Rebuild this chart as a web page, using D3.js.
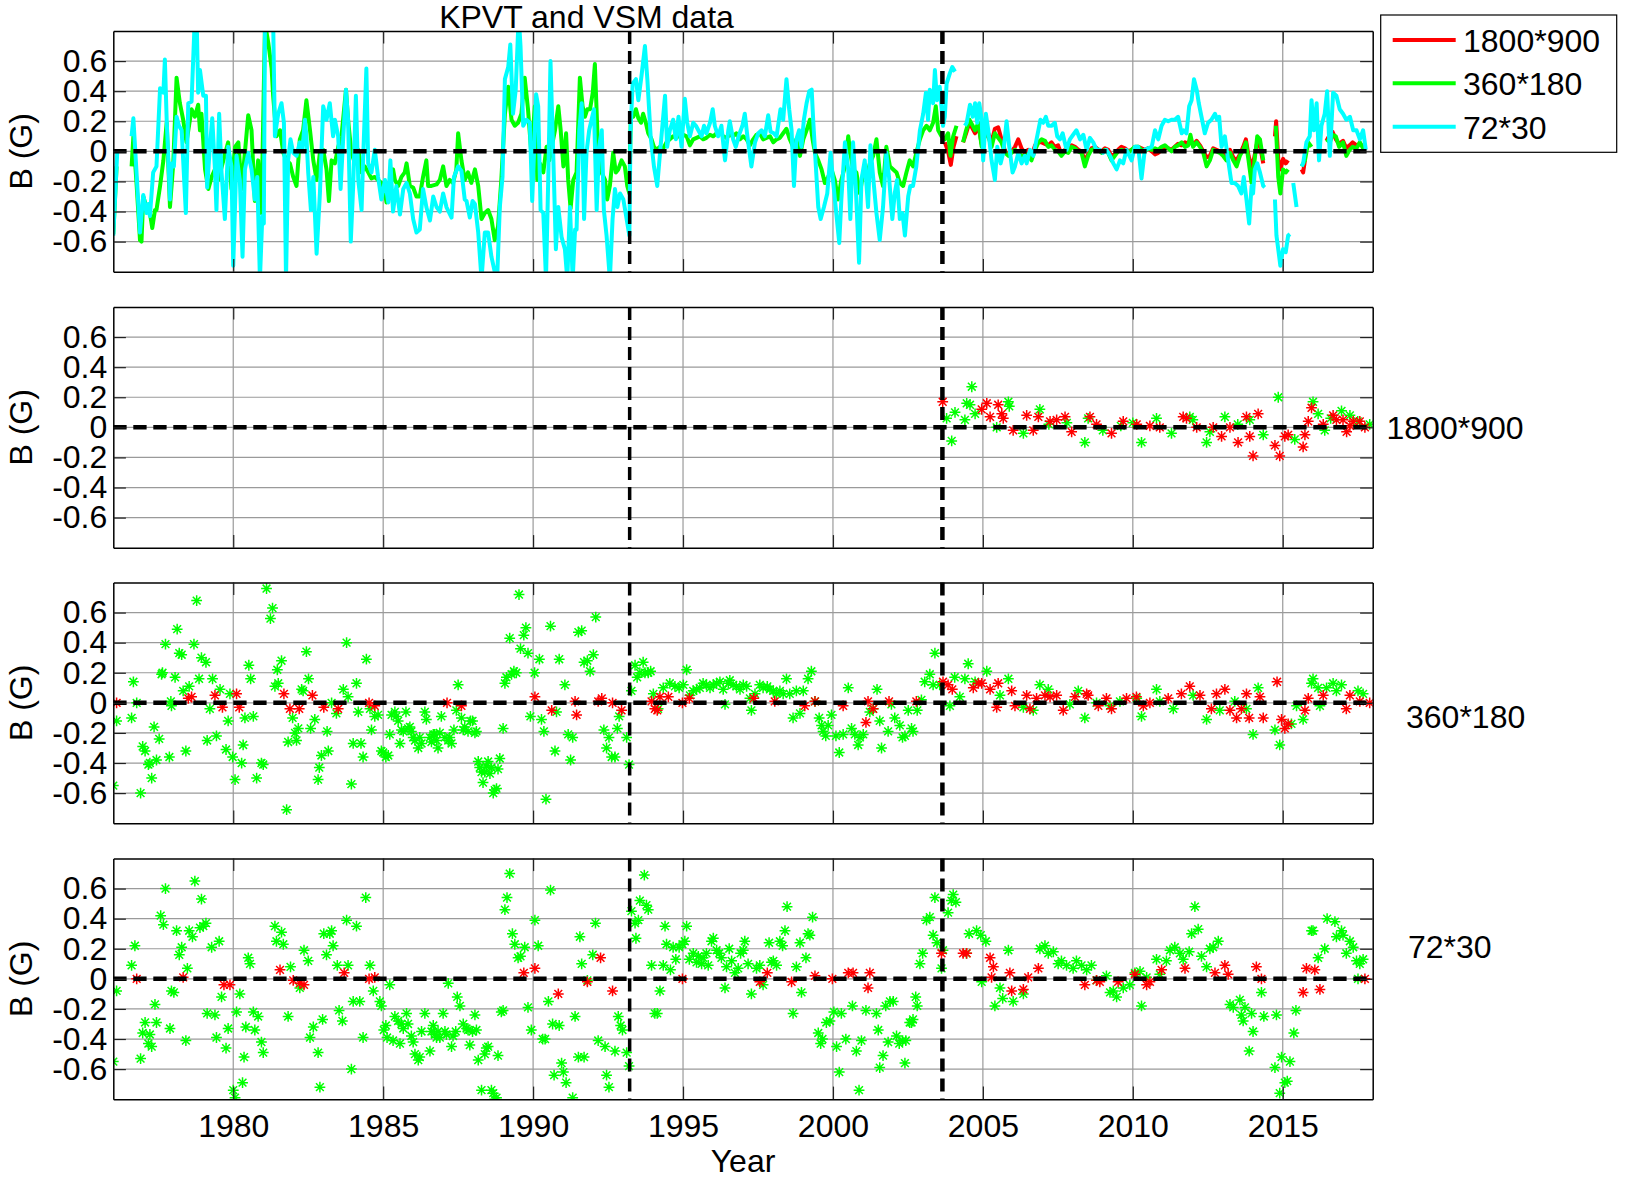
<!DOCTYPE html>
<html lang="en">
<head>
<meta charset="UTF-8" />
<title>KPVT and VSM data</title>
<script src="https://d3js.org/d3.v7.min.js"></script>
<style>
  body { margin: 0; background: #fff; }
  svg { display: block; font-family: "Liberation Sans", Arial, Helvetica, sans-serif; }
</style>
</head>
<body>
<div id="chart"></div>
<script>
// ---------- data ----------
const yearTicks = [1980, 1985, 1990, 1995, 2000, 2005, 2010, 2015];
const bTicks = [-0.6, -0.4, -0.2, 0, 0.2, 0.4, 0.6];
const instrumentBreaks = [1993.22, 2003.65];
const resolutions = ["1800*900", "360*180", "72*30"];
const seriesColors = ["#ff0000", "#00ff00", "#00ffff"];

// top panel: lines, [year, B]; null = gap
const line1800 = [[2003.73,0.06],[2003.84,0.00],[2003.93,-0.09],[2004.02,0.03],[2004.12,0.10],null,[2004.34,0.06],[2004.44,0.12],[2004.55,0.19],[2004.66,0.15],[2004.74,0.12],[2004.85,0.17],[2004.96,0.05],[2005.07,0.10],[2005.18,0.12],[2005.29,0.06],[2005.40,0.15],[2005.51,0.16],[2005.62,0.08],[2005.74,0.00],[2005.85,-0.02],[2005.96,0.00],[2006.07,0.03],[2006.18,0.08],[2006.29,0.02],[2006.40,-0.01],[2006.51,0.01],[2006.62,-0.03],[2006.74,0.04],[2006.85,0.06],[2006.96,0.06],[2007.07,0.05],[2007.18,0.04],[2007.29,0.06],[2007.40,0.03],[2007.51,0.04],[2007.62,-0.02],[2007.74,0.01],[2007.85,0.03],[2007.96,0.04],[2008.07,0.03],[2008.18,0.01],[2008.29,0.00],[2008.40,-0.06],[2008.51,-0.02],[2008.62,0.02],[2008.74,0.03],[2008.85,0.01],[2008.96,0.00],[2009.07,0.02],[2009.18,0.01],[2009.29,-0.03],[2009.40,-0.02],[2009.51,0.01],[2009.62,0.03],[2009.74,0.02],[2009.85,0.00],[2009.96,0.01],[2010.07,0.02],[2010.18,0.03],[2010.29,0.02],[2010.40,0.01],[2010.51,0.02],[2010.63,0.00],[2010.74,-0.02],[2010.85,-0.01],[2010.96,0.01],[2011.07,0.03],[2011.18,0.02],[2011.29,0.01],[2011.40,0.03],[2011.51,0.05],[2011.63,0.04],[2011.74,0.06],[2011.85,0.05],[2011.92,0.08],[2012.01,0.04],[2012.13,0.07],[2012.24,0.04],[2012.35,0.00],[2012.46,-0.04],[2012.57,-0.03],[2012.68,0.02],[2012.79,0.01],[2012.90,0.00],[2013.01,-0.02],[2013.12,-0.04],[2013.24,0.01],[2013.35,-0.04],[2013.46,-0.06],[2013.57,-0.02],[2013.68,0.03],[2013.77,0.08],[2013.86,-0.03],[2013.96,-0.10],[2014.04,-0.05],[2014.15,0.06],[2014.24,0.04],[2014.35,-0.08],null,[2014.74,0.10],[2014.78,0.20],[2014.85,-0.05],[2014.92,-0.12],[2015.01,-0.05],[2015.10,-0.08],[2015.18,-0.06],null,[2015.63,-0.12],[2015.68,-0.14],[2015.74,-0.06],null,[2016.46,0.07],[2016.57,0.11],[2016.66,0.13],[2016.77,0.08],[2016.88,0.05],[2017.01,0.07],[2017.12,0.02],[2017.23,0.04],[2017.33,0.06],[2017.46,0.04],[2017.57,0.05],[2017.68,0.03],[2017.77,0.02]];

const line360 = [[1976.00,-0.55],[1976.11,-0.10],null,[1976.61,-0.10],[1976.67,0.10],[1976.78,-0.23],[1976.89,-0.59],[1976.94,-0.60],[1977.00,-0.30],[1977.11,-0.37],[1977.22,-0.41],[1977.30,-0.51],[1977.39,-0.39],[1977.44,-0.39],[1977.56,-0.23],[1977.67,-0.06],[1977.78,0.19],[1977.89,-0.37],[1978.00,-0.08],[1978.11,0.49],[1978.22,0.32],[1978.33,0.21],[1978.44,0.06],[1978.61,0.28],[1978.72,0.23],[1978.83,0.31],[1978.89,0.14],[1978.94,0.25],[1979.06,-0.12],[1979.17,-0.25],[1979.28,-0.17],[1979.39,-0.12],[1979.50,-0.19],[1979.67,-0.06],[1979.83,0.06],[1979.94,-0.25],[1980.06,0.03],[1980.17,0.06],[1980.28,-0.25],[1980.50,0.24],[1980.61,0.14],[1980.72,-0.33],[1980.83,-0.06],[1980.94,-0.41],[1981.06,0.85],[1981.17,0.72],[1981.28,0.55],[1981.33,0.37],[1981.44,0.10],[1981.56,0.14],[1981.67,-0.01],[1981.78,-0.06],[1981.89,-0.08],[1982.00,-0.17],[1982.11,-0.23],[1982.22,0.08],[1982.33,0.14],[1982.44,0.34],[1982.56,0.14],[1982.67,-0.06],[1982.78,-0.19],[1982.89,-0.01],[1983.00,0.01],[1983.11,-0.12],[1983.19,-0.33],[1983.28,-0.06],[1983.39,-0.08],[1983.50,0.03],[1983.61,0.10],[1983.76,0.41],[1983.83,0.21],[1983.94,-0.01],[1984.06,-0.08],[1984.17,0.01],[1984.28,-0.14],[1984.39,-0.10],[1984.50,-0.14],[1984.61,-0.18],[1984.72,-0.17],[1984.83,-0.19],[1984.94,-0.21],[1985.06,-0.28],[1985.11,-0.34],[1985.22,-0.21],[1985.33,-0.12],[1985.39,-0.19],[1985.50,-0.23],[1985.61,-0.17],[1985.72,-0.14],[1985.78,-0.08],[1985.89,-0.23],[1986.00,-0.24],[1986.11,-0.30],[1986.22,-0.30],[1986.33,-0.17],[1986.44,-0.06],[1986.50,-0.23],[1986.61,-0.23],[1986.78,-0.22],[1986.89,-0.19],[1987.00,-0.10],[1987.11,-0.23],[1987.22,-0.19],[1987.33,-0.21],[1987.44,-0.12],[1987.50,0.12],[1987.61,-0.06],[1987.72,-0.19],[1987.83,-0.14],[1987.94,-0.21],[1988.06,-0.12],[1988.17,-0.23],[1988.28,-0.45],[1988.39,-0.41],[1988.50,-0.39],[1988.61,-0.45],[1988.72,-0.59],[1988.83,-0.50],[1988.94,-0.19],[1989.06,0.25],[1989.17,0.43],[1989.28,0.21],[1989.39,0.17],[1989.50,0.19],[1989.61,0.25],[1989.72,0.49],[1989.83,0.28],[1989.94,-0.01],
[1990.06,0.30],[1990.14,-0.19],[1990.23,-0.08],[1990.34,-0.14],[1990.45,0.03],[1990.54,-0.06],[1990.62,0.03],[1990.73,0.14],[1990.84,0.30],[1990.92,0.14],[1991.01,-0.10],[1991.10,0.12],[1991.17,-0.19],[1991.25,-0.38],[1991.34,-0.19],[1991.45,-0.14],[1991.56,0.49],[1991.65,0.30],[1991.73,0.23],[1991.81,0.28],[1991.90,0.28],[1991.99,0.39],[1992.06,0.58],[1992.17,-0.01],[1992.28,-0.14],[1992.40,-0.19],[1992.47,-0.32],[1992.56,-0.23],[1992.67,-0.01],[1992.76,-0.14],[1992.84,-0.12],[1992.95,-0.06],[1993.06,-0.10],[1993.14,-0.23],[1993.21,-0.28],[1993.26,0.25],[1993.34,0.23],[1993.43,0.28],[1993.51,0.22],[1993.60,0.19],[1993.67,0.25],[1993.76,0.19],[1993.84,0.12],[1993.95,0.08],[1994.03,0.03],[1994.12,0.01],[1994.23,0.03],[1994.34,0.02],[1994.45,0.06],[1994.56,0.08],[1994.67,0.10],[1994.78,0.09],[1994.90,0.11],[1995.01,0.11],[1995.12,0.10],[1995.23,0.04],[1995.34,0.08],[1995.45,0.09],[1995.56,0.10],[1995.67,0.08],[1995.78,0.09],[1995.90,0.11],[1996.01,0.10],[1996.12,0.12],[1996.23,0.13],[1996.34,0.10],[1996.45,0.09],[1996.56,0.11],[1996.67,0.10],[1996.78,0.12],[1996.90,0.08],[1997.01,0.10],[1997.12,0.08],[1997.23,0.04],[1997.34,0.08],[1997.45,0.11],[1997.56,0.12],[1997.67,0.08],[1997.78,0.09],[1997.90,0.10],[1998.01,0.06],[1998.12,0.08],[1998.23,0.09],[1998.34,0.12],[1998.45,0.15],[1998.56,0.08],[1998.67,0.03],[1998.78,0.08],[1998.90,-0.03],[1999.01,0.08],[1999.12,0.14],[1999.23,0.21],[1999.32,0.08],[1999.40,-0.01],[1999.51,-0.06],[1999.62,-0.12],[1999.73,-0.21],[1999.84,-0.17],[1999.95,-0.12],[2000.06,-0.19],[2000.17,-0.32],[2000.28,-0.19],[2000.40,-0.10],[2000.51,0.10],[2000.58,-0.01],[2000.67,-0.12],[2000.78,-0.14],[2000.90,-0.28],[2001.01,-0.14],[2001.12,-0.17],[2001.23,-0.08],[2001.34,-0.03],[2001.45,0.08],[2001.56,-0.14],[2001.67,-0.23],[2001.78,0.03],[2001.90,-0.10],[2002.01,-0.12],[2002.12,-0.14],[2002.23,-0.21],[2002.34,-0.23],[2002.45,-0.14],[2002.56,-0.06],[2002.67,-0.10],[2002.78,-0.01],[2002.90,0.08],[2003.01,0.14],[2003.12,0.17],[2003.23,0.14],[2003.34,0.19],[2003.43,0.30],[2003.51,0.14],[2003.62,0.10],[2003.73,0.08],[2003.84,0.12],[2003.92,-0.03],[2004.01,0.10],[2004.12,0.17],null,[2004.34,0.06],
[2004.44,0.14],[2004.55,0.21],[2004.66,0.17],[2004.74,0.14],[2004.85,0.19],[2004.96,0.03],[2005.07,0.12],[2005.18,0.10],[2005.29,0.03],[2005.40,0.12],[2005.51,0.09],[2005.62,0.06],[2005.74,-0.01],[2005.85,-0.03],[2005.96,-0.01],[2006.07,0.01],[2006.18,-0.01],[2006.29,-0.03],[2006.40,-0.03],[2006.51,-0.02],[2006.62,-0.06],[2006.74,0.01],[2006.85,0.06],[2006.96,0.08],[2007.07,0.07],[2007.18,0.03],[2007.29,0.04],[2007.40,0.01],[2007.51,0.00],[2007.62,-0.03],[2007.74,0.00],[2007.85,-0.01],[2007.96,0.03],[2008.07,0.02],[2008.18,0.00],[2008.29,-0.01],[2008.40,-0.10],[2008.51,-0.03],[2008.62,0.01],[2008.74,0.02],[2008.85,0.01],[2008.96,-0.01],[2009.07,0.01],[2009.18,-0.01],[2009.29,-0.06],[2009.40,-0.03],[2009.51,0.00],[2009.62,0.01],[2009.74,0.00],[2009.85,-0.01],[2009.96,0.01],[2010.07,0.03],[2010.18,0.03],[2010.29,0.01],[2010.40,0.00],[2010.51,0.02],[2010.63,0.01],[2010.74,0.02],[2010.85,0.01],[2010.96,0.03],[2011.07,0.04],[2011.18,0.02],[2011.29,0.00],[2011.40,0.03],[2011.51,0.04],[2011.63,0.06],[2011.74,0.03],[2011.85,0.04],[2011.92,0.11],[2012.01,0.03],[2012.13,0.06],[2012.24,0.03],[2012.35,-0.01],[2012.46,-0.10],[2012.57,-0.06],[2012.68,0.01],[2012.79,0.00],[2012.90,-0.01],[2013.01,-0.03],[2013.12,-0.06],[2013.24,-0.01],[2013.35,-0.06],[2013.46,-0.10],[2013.57,-0.03],[2013.68,0.01],[2013.77,0.06],[2013.86,-0.06],[2013.96,-0.21],[2014.04,-0.10],[2014.15,0.10],[2014.24,0.08],[2014.35,-0.06],null,[2014.77,0.17],[2014.85,-0.17],[2014.92,-0.28],[2015.01,-0.12],[2015.10,-0.14],[2015.18,-0.12],null,[2015.63,-0.10],[2015.74,-0.06],[2015.85,0.06],[2015.96,0.03],null,[2016.46,0.08],[2016.57,0.06],[2016.66,0.11],[2016.77,0.10],[2016.88,0.03],[2017.01,0.06],[2017.12,-0.03],[2017.23,0.01],[2017.33,0.03],[2017.46,0.02],[2017.57,0.06],[2017.68,0.02],[2017.77,0.01]];

const line72 = [[1976.00,-0.56],[1976.13,-0.01],null,[1976.61,0.10],[1976.67,0.22],[1976.89,-0.54],[1977.00,-0.29],[1977.11,-0.41],[1977.17,-0.35],[1977.22,-0.43],[1977.33,-0.14],[1977.44,-0.10],[1977.56,0.42],[1977.67,0.39],[1977.72,0.61],[1977.78,0.21],[1977.89,-0.32],[1977.94,-0.08],[1978.02,-0.10],[1978.11,0.23],[1978.19,0.17],[1978.28,0.14],[1978.42,-0.41],[1978.50,0.32],[1978.61,0.33],[1978.72,0.90],[1978.78,0.88],[1978.83,0.39],[1978.89,0.54],[1979.00,0.37],[1979.09,0.37],[1979.13,-0.24],[1979.22,0.03],[1979.30,0.22],[1979.39,-0.12],[1979.44,-0.39],[1979.53,0.25],[1979.61,-0.14],[1979.72,-0.45],[1979.83,0.03],[1979.94,-0.10],[1980.00,-0.76],[1980.11,-0.03],[1980.22,-0.19],[1980.31,-0.70],[1980.39,-0.12],[1980.50,-0.01],[1980.61,-0.12],[1980.72,-0.32],[1980.80,-0.17],[1980.89,-0.85],[1980.97,-0.43],[1981.02,-0.48],[1981.06,0.90],[1981.17,0.88],[1981.33,0.88],[1981.39,0.10],[1981.50,0.25],[1981.61,0.32],[1981.69,0.19],[1981.76,-0.85],[1981.83,-0.06],[1981.91,0.08],[1982.00,-0.01],[1982.11,-0.03],[1982.22,0.06],[1982.31,0.01],[1982.39,0.21],[1982.44,0.10],[1982.50,-0.14],[1982.59,-0.39],[1982.67,-0.17],[1982.78,-0.68],[1982.89,-0.28],[1983.00,0.30],[1983.11,0.21],[1983.22,0.32],[1983.33,0.10],[1983.39,0.21],[1983.50,0.10],[1983.58,-0.25],[1983.67,0.10],[1983.76,0.41],[1983.83,0.21],[1983.92,-0.60],[1984.00,-0.23],[1984.09,0.37],[1984.17,-0.19],[1984.28,-0.39],[1984.33,-0.06],[1984.44,0.55],[1984.50,-0.08],[1984.61,-0.14],[1984.72,0.01],[1984.83,-0.17],[1984.94,-0.32],[1985.06,-0.19],[1985.17,-0.34],[1985.24,-0.06],[1985.33,-0.40],[1985.44,-0.23],[1985.56,-0.42],[1985.67,-0.25],[1985.78,-0.21],[1985.89,-0.28],[1986.00,-0.45],[1986.11,-0.54],[1986.22,-0.52],[1986.33,-0.25],[1986.44,-0.37],[1986.56,-0.46],[1986.67,-0.30],[1986.78,-0.37],[1986.89,-0.40],[1987.00,-0.28],[1987.11,-0.37],[1987.28,-0.44],[1987.36,-0.17],[1987.50,-0.10],[1987.61,-0.13],[1987.72,-0.32],[1987.78,-0.33],[1987.89,-0.44],[1987.98,-0.33],[1988.06,-0.35],[1988.17,-0.54],[1988.28,-0.85],[1988.39,-0.54],[1988.50,-0.54],[1988.61,-0.70],[1988.72,-0.80],[1988.80,-0.85],[1988.89,-0.37],[1988.98,-0.17],[1989.06,0.48],[1989.17,0.56],[1989.24,0.71],[1989.33,0.25],[1989.42,0.41],[1989.52,0.90],[1989.58,0.70],[1989.67,0.17],[1989.78,0.21],[1989.89,0.19],[1989.97,-0.33],
[1990.01,-0.12],[1990.10,0.38],[1990.17,0.30],[1990.25,-0.39],[1990.34,-0.41],[1990.43,-0.85],[1990.51,-0.14],[1990.58,0.60],[1990.67,-0.01],[1990.76,-0.65],[1990.84,-0.37],[1990.95,-0.57],[1991.06,-0.65],[1991.14,-0.85],[1991.23,-0.37],[1991.32,-0.85],[1991.40,-0.52],[1991.45,-0.52],[1991.54,0.14],[1991.62,0.32],[1991.70,-0.45],[1991.78,-0.01],[1991.87,0.14],[1991.95,0.21],[1992.03,0.28],[1992.12,-0.39],[1992.20,0.03],[1992.29,0.14],[1992.36,-0.39],[1992.45,-0.56],[1992.56,-0.85],[1992.65,-0.45],[1992.73,-0.25],[1992.81,-0.37],[1992.90,-0.28],[1993.01,-0.32],[1993.12,-0.45],[1993.21,-0.56],[1993.25,0.14],[1993.32,0.45],[1993.43,0.48],[1993.51,0.34],[1993.62,0.51],[1993.73,0.70],[1993.81,0.48],[1993.92,0.10],[1994.03,-0.10],[1994.14,-0.23],[1994.25,0.03],[1994.40,0.37],[1994.47,0.03],[1994.56,0.14],[1994.67,0.21],[1994.76,0.08],[1994.85,0.23],[1994.95,0.03],[1995.06,0.35],[1995.14,0.19],[1995.23,0.10],[1995.34,0.19],[1995.43,0.17],[1995.51,0.14],[1995.62,0.10],[1995.70,0.17],[1995.78,0.12],[1995.90,0.19],[1995.99,0.28],[1996.06,0.17],[1996.17,0.10],[1996.28,0.17],[1996.40,-0.06],[1996.51,0.14],[1996.56,0.20],[1996.67,0.08],[1996.76,0.03],[1996.87,0.11],[1996.98,0.17],[1997.06,0.25],[1997.14,0.11],[1997.28,-0.10],[1997.40,0.06],[1997.51,0.12],[1997.62,0.14],[1997.73,0.10],[1997.84,0.24],[1997.92,0.13],[1998.03,0.12],[1998.12,0.10],[1998.25,0.28],[1998.34,0.21],[1998.45,0.48],[1998.54,0.28],[1998.62,0.14],[1998.70,-0.23],[1998.78,0.08],[1998.87,0.14],[1998.95,0.03],[1999.03,0.21],[1999.12,0.32],[1999.21,0.40],[1999.29,0.41],[1999.34,0.21],[1999.43,-0.10],[1999.51,-0.37],[1999.59,-0.45],[1999.70,-0.37],[1999.81,-0.28],[1999.92,-0.01],[2000.01,-0.21],[2000.10,-0.39],[2000.21,-0.61],[2000.28,-0.32],[2000.40,0.06],[2000.51,-0.12],[2000.58,-0.45],[2000.67,0.06],[2000.76,-0.23],[2000.87,-0.74],[2000.95,-0.19],[2001.06,-0.06],[2001.17,-0.37],[2001.25,0.04],[2001.34,-0.17],[2001.45,-0.41],[2001.56,-0.59],[2001.67,-0.37],[2001.78,-0.01],[2001.87,-0.17],[2001.98,-0.45],[2002.06,-0.28],[2002.14,-0.19],[2002.23,-0.45],[2002.32,-0.41],[2002.40,-0.56],[2002.51,-0.30],[2002.58,-0.23],[2002.67,-0.23],[2002.78,-0.10],[2002.90,0.14],[2003.01,0.25],[2003.10,0.39],[2003.17,0.21],[2003.23,0.41],[2003.34,0.32],[2003.40,0.54],[2003.47,0.34],[2003.56,0.43],[2003.67,0.17],[2003.73,0.23],[2003.79,0.45],[2003.90,0.52],[2003.98,0.56],[2004.07,0.53],null,[2004.40,0.17],
[2004.46,0.19],[2004.57,0.31],[2004.66,0.23],[2004.74,0.32],[2004.81,0.19],[2004.88,0.32],[2004.96,0.21],[2005.01,-0.06],[2005.10,0.25],[2005.18,0.14],[2005.29,-0.06],[2005.40,-0.19],[2005.48,0.03],[2005.59,-0.08],[2005.68,-0.01],[2005.79,0.20],[2005.88,0.03],[2005.99,-0.14],[2006.07,-0.10],[2006.18,-0.01],[2006.29,-0.08],[2006.40,-0.03],[2006.46,-0.08],[2006.57,0.01],[2006.68,-0.03],[2006.77,0.06],[2006.85,0.14],[2006.92,0.21],[2007.01,0.19],[2007.10,0.23],[2007.18,0.17],[2007.29,0.17],[2007.40,0.19],[2007.48,0.10],[2007.57,0.08],[2007.66,0.12],[2007.79,0.01],[2007.90,0.08],[2008.01,0.11],[2008.12,0.14],[2008.24,0.08],[2008.35,0.11],[2008.46,0.01],[2008.57,0.09],[2008.68,0.06],[2008.79,0.01],[2008.90,0.01],[2009.01,-0.01],[2009.12,0.01],[2009.24,-0.03],[2009.35,-0.08],[2009.46,-0.12],[2009.57,-0.06],[2009.68,-0.08],[2009.79,0.01],[2009.96,-0.06],[2010.07,0.03],[2010.18,0.03],[2010.29,-0.18],[2010.40,0.01],[2010.51,0.02],[2010.63,0.03],[2010.74,0.14],[2010.85,0.08],[2010.96,0.17],[2011.07,0.21],[2011.18,0.20],[2011.29,0.21],[2011.40,0.21],[2011.51,0.23],[2011.63,0.12],[2011.70,0.14],[2011.79,0.12],[2011.88,0.30],[2011.96,0.34],[2012.04,0.48],[2012.13,0.41],[2012.20,0.32],[2012.29,0.23],[2012.40,0.12],[2012.51,0.19],[2012.62,0.21],[2012.74,0.25],[2012.81,0.21],[2012.88,0.23],[2012.96,0.03],[2013.07,0.10],[2013.18,-0.06],[2013.29,-0.21],[2013.40,-0.21],[2013.51,-0.23],[2013.62,-0.28],[2013.70,-0.17],[2013.79,-0.32],[2013.88,-0.48],[2013.96,-0.23],[2014.01,-0.28],[2014.07,-0.12],[2014.15,-0.08],[2014.24,-0.14],[2014.35,-0.23],[2014.40,-0.24],null,[2014.74,-0.32],[2014.79,-0.56],[2014.85,-0.65],[2014.92,-0.76],[2015.01,-0.65],[2015.10,-0.67],[2015.18,-0.56],[2015.24,-0.55],null,[2015.35,-0.21],[2015.46,-0.37],null,[2015.63,-0.10],[2015.68,-0.08],[2015.79,0.06],[2015.90,0.10],[2015.96,0.34],[2016.04,0.14],[2016.13,0.32],[2016.21,-0.06],[2016.29,0.17],[2016.40,0.25],[2016.48,0.40],[2016.57,-0.03],[2016.68,0.39],[2016.79,0.37],[2016.90,0.28],[2017.01,0.25],[2017.12,0.21],[2017.24,0.23],[2017.35,0.14],[2017.46,0.14],[2017.57,0.08],[2017.68,0.14],[2017.77,0.01]];

// panel 2 (1800*900) points, [year, B]
const p1800Green = [[2003.79,0.06],[2003.96,-0.09],[2004.07,0.10],[2004.40,0.05],[2004.46,0.16],[2004.57,0.15],[2004.63,0.27],[2004.74,0.09],[2005.46,0.00],[2005.85,0.17],[2005.88,0.14],[2006.35,-0.04],[2006.90,0.12],[2007.20,0.02],[2007.80,0.03],[2008.40,-0.10],[2008.51,0.06],[2009.00,-0.02],[2009.60,0.01],[2010.00,0.03],[2010.29,-0.10],[2010.79,0.06],[2011.29,-0.04],[2011.90,0.07],[2012.00,0.05],[2012.46,-0.10],[2012.57,-0.03],[2013.07,0.07],[2013.50,0.02],[2013.90,0.05],[2014.35,-0.05],[2014.85,0.20],[2015.40,-0.08],[2016.01,0.17],[2016.18,0.09],[2016.40,-0.02],[2016.60,0.06],[2016.96,0.11],[2017.24,0.08],[2017.50,0.04],[2017.90,0.02]];
const p1800Red = [[2003.66,0.17],[2004.96,0.12],[2005.13,0.16],[2005.24,0.07],[2005.51,0.15],[2005.63,0.09],[2005.68,0.06],[2006.01,-0.02],[2006.46,0.08],[2006.68,-0.02],[2006.85,0.07],[2007.24,0.04],[2007.46,0.05],[2007.74,0.07],[2007.96,-0.03],[2008.57,0.07],[2008.79,0.02],[2009.29,-0.04],[2009.68,0.04],[2010.13,0.02],[2010.57,0.01],[2010.90,0.00],[2011.68,0.07],[2011.79,0.06],[2012.13,0.00],[2012.68,0.00],[2012.96,-0.06],[2013.24,0.00],[2013.51,-0.10],[2013.79,0.07],[2013.90,-0.06],[2014.01,-0.19],[2014.18,0.09],[2014.74,-0.12],[2014.90,-0.19],[2015.07,-0.06],[2015.18,-0.05],[2015.68,-0.13],[2015.74,-0.05],[2015.85,0.04],[2015.96,0.13],[2016.35,0.02],[2016.68,0.08],[2016.79,0.05],[2017.01,0.05],[2017.13,-0.03],[2017.24,0.01],[2017.35,0.04],[2017.57,0.04],[2017.74,0.00]];

// panel 3 (360*180) points
const p360Green = [[1976.00,-0.55],[1976.11,-0.12],[1976.61,-0.10],[1976.67,0.14],[1976.78,0.00],[1976.91,-0.60],[1976.98,-0.29],[1977.06,-0.32],[1977.17,-0.41],[1977.22,-0.40],[1977.28,-0.50],[1977.36,-0.16],[1977.44,-0.38],[1977.53,-0.24],[1977.61,0.19],[1977.64,0.20],[1977.74,0.39],[1977.87,-0.36],[1977.92,0.01],[1977.94,-0.02],[1978.06,0.17],[1978.13,0.49],[1978.20,0.33],[1978.28,0.32],[1978.33,0.08],[1978.42,-0.32],[1978.53,0.11],[1978.69,0.39],[1978.78,0.68],[1978.86,0.16],[1978.94,0.30],[1979.09,0.27],[1979.13,-0.25],[1979.22,-0.04],[1979.31,0.16],[1979.44,-0.22],[1979.56,0.09],[1979.76,-0.31],[1979.83,-0.12],[1979.89,0.06],[1979.98,-0.36],[1980.06,-0.51],[1980.28,-0.40],[1980.33,-0.28],[1980.39,-0.10],[1980.52,0.25],[1980.58,0.16],[1980.67,-0.09],[1980.78,-0.50],[1980.94,-0.40],[1981.00,-0.41],[1981.11,0.76],[1981.24,0.56],[1981.31,0.63],[1981.39,0.11],[1981.47,0.22],[1981.50,0.13],[1981.61,0.28],[1981.78,-0.71],[1981.83,-0.26],[1981.98,-0.10],[1982.06,-0.20],[1982.11,-0.25],[1982.17,-0.17],[1982.28,0.09],[1982.33,0.08],[1982.44,0.34],[1982.51,0.16],[1982.58,-0.17],[1982.72,-0.11],[1982.83,-0.51],[1982.87,-0.43],[1982.94,-0.35],[1983.13,-0.19],[1983.17,-0.32],[1983.28,0.00],[1983.44,-0.07],[1983.67,0.09],[1983.78,0.40],[1983.83,0.04],[1983.94,-0.54],[1984.00,-0.27],[1984.11,0.13],[1984.17,-0.06],[1984.26,-0.27],[1984.33,-0.36],[1984.44,0.29],[1984.56,-0.04],[1984.61,-0.18],[1984.72,-0.09],[1984.83,-0.08],[1984.94,-0.32],[1985.00,-0.33],[1985.09,-0.36],[1985.17,-0.35],[1985.22,-0.21],[1985.28,-0.08],[1985.39,-0.06],[1985.44,-0.09],[1985.50,-0.12],[1985.56,-0.27],[1985.61,-0.18],[1985.67,-0.19],[1985.76,-0.06],[1985.83,-0.17],[1985.89,-0.16],[1985.94,-0.19],[1986.00,-0.23],[1986.06,-0.25],[1986.17,-0.30],[1986.22,-0.23],[1986.28,-0.27],[1986.39,-0.06],[1986.44,-0.11],[1986.56,-0.23],[1986.61,-0.26],[1986.67,-0.21],[1986.72,-0.21],[1986.78,-0.25],[1986.83,-0.30],[1986.89,-0.20],[1986.94,-0.09],[1987.06,-0.23],[1987.17,-0.25],[1987.22,-0.23],[1987.28,-0.27],[1987.36,-0.18],[1987.44,-0.05],[1987.50,0.12],[1987.61,-0.10],[1987.67,-0.18],[1987.72,-0.16],[1987.83,-0.19],[1987.91,-0.12],[1987.98,-0.12],[1988.06,-0.20],[1988.11,-0.19],[1988.17,-0.39],[1988.22,-0.43],[1988.28,-0.46],[1988.33,-0.53],[1988.39,-0.46],[1988.44,-0.42],[1988.50,-0.39],[1988.56,-0.47],[1988.61,-0.43],[1988.67,-0.60],[1988.72,-0.58],[1988.78,-0.57],[1988.83,-0.44],[1988.89,-0.37],[1989.00,-0.17],[1989.06,0.13],[1989.11,0.17],[1989.22,0.43],[1989.28,0.19],[1989.36,0.21],[1989.44,0.20],[1989.53,0.72],[1989.58,0.36],[1989.69,0.45],[1989.76,0.50],[1989.83,0.33],[1989.91,-0.09],[1990.05,0.20],
[1990.21,0.29],[1990.28,-0.11],[1990.36,-0.19],[1990.43,-0.64],[1990.58,0.51],[1990.73,-0.32],[1990.78,-0.06],[1990.87,0.29],[1991.06,0.12],[1991.17,-0.21],[1991.25,-0.38],[1991.32,-0.23],[1991.51,0.47],[1991.62,0.48],[1991.70,0.27],[1991.81,0.28],[1991.90,0.21],[1992.01,0.32],[1992.09,0.57],[1992.36,-0.18],[1992.45,-0.30],[1992.53,-0.23],[1992.62,-0.36],[1992.73,-0.36],[1992.81,-0.17],[1992.87,-0.09],[1993.12,-0.23],[1993.20,-0.41],[1993.28,0.08],[1993.40,0.25],[1993.47,0.17],[1993.56,0.20],[1993.67,0.27],[1993.73,0.20],[1993.84,0.20],[1993.92,0.21],[1994.01,0.06],[1994.17,-0.04],[1994.34,0.10],[1994.56,0.13],[1994.73,0.11],[1994.87,0.10],[1995.01,0.12],[1995.12,0.22],[1995.23,0.05],[1995.34,0.08],[1995.45,0.09],[1995.56,0.10],[1995.67,0.13],[1995.78,0.12],[1995.90,0.10],[1996.01,0.12],[1996.12,0.13],[1996.23,0.14],[1996.34,0.09],[1996.40,-0.01],[1996.51,0.13],[1996.56,0.15],[1996.67,0.12],[1996.78,0.11],[1996.90,0.09],[1997.01,0.12],[1997.12,0.11],[1997.23,0.03],[1997.28,-0.05],[1997.40,0.06],[1997.56,0.12],[1997.67,0.10],[1997.81,0.11],[1997.90,0.09],[1998.01,0.08],[1998.12,0.06],[1998.23,0.08],[1998.34,0.06],[1998.45,0.16],[1998.56,0.06],[1998.67,-0.10],[1998.78,0.08],[1998.90,-0.07],[1999.01,0.08],[1999.17,0.16],[1999.28,0.21],[1999.40,0.01],[1999.54,-0.10],[1999.62,-0.15],[1999.67,-0.19],[1999.76,-0.22],[1999.84,-0.15],[1999.95,-0.08],[2000.10,-0.22],[2000.21,-0.33],[2000.34,-0.21],[2000.51,0.10],[2000.62,-0.17],[2000.73,-0.21],[2000.84,-0.28],[2000.90,-0.23],[2001.01,-0.21],[2001.23,-0.06],[2001.34,-0.04],[2001.47,0.09],[2001.56,-0.12],[2001.62,-0.30],[2001.84,-0.19],[2001.95,-0.01],[2002.06,-0.10],[2002.23,-0.15],[2002.32,-0.23],[2002.40,-0.22],[2002.51,-0.05],[2002.62,-0.17],[2002.67,-0.19],[2002.81,-0.05],[2002.95,0.02],[2003.06,0.14],[2003.23,0.19],[2003.34,0.12],[2003.40,0.33],[2003.56,0.12],[2003.90,-0.02],[2004.06,0.17],[2004.23,0.04],[2004.40,0.16],[2004.51,0.26],
[2004.74,0.14],[2005.13,0.21],[2005.57,0.05],[2005.85,0.16],[2006.35,-0.03],[2006.68,-0.05],[2006.90,0.12],[2007.18,0.09],[2007.90,-0.01],[2008.18,0.08],[2008.40,-0.10],[2008.79,0.00],[2009.24,-0.02],[2009.57,0.01],[2010.13,0.03],[2010.29,-0.09],[2010.79,0.09],[2010.90,0.01],[2011.35,-0.04],[2012.01,0.05],[2012.46,-0.11],[2012.90,-0.05],[2013.40,0.01],[2013.79,-0.04],[2014.01,-0.21],[2014.18,0.10],[2014.74,-0.18],[2014.90,-0.28],[2015.29,-0.14],[2015.46,-0.02],[2015.68,-0.11],[2015.96,0.13],[2016.01,0.16],[2016.18,0.10],[2016.24,-0.02],[2016.46,0.10],[2016.68,0.13],[2016.79,0.08],[2016.96,0.12],[2017.51,0.08],[2017.68,0.06]];
const p360Red = [[1976.11,0.00],[1978.50,0.03],[1978.61,0.04],[1979.39,0.05],[1979.64,-0.03],[1980.11,0.06],[1980.20,-0.03],[1981.69,0.06],[1981.89,-0.04],[1982.20,-0.04],[1982.64,0.05],[1983.02,-0.03],[1983.50,-0.04],[1984.53,0.00],[1984.72,-0.02],[1987.13,0.00],[1987.61,-0.02],[1990.06,0.04],[1990.62,-0.05],[1991.40,0.01],[1991.45,-0.08],[1992.17,0.01],[1992.29,0.03],[1992.65,0.00],[1992.95,-0.05],[1993.95,0.01],[1994.06,-0.04],[1994.14,-0.05],[1994.23,0.04],[1994.51,0.04],[1994.98,0.00],[1995.21,0.03],[1997.36,0.03],[1998.06,0.01],[1999.06,-0.02],[1999.40,0.01],[2000.34,-0.02],[2001.10,-0.13],[2001.17,0.01],[2001.34,-0.04],[2001.87,0.01],[2002.78,0.01],[2003.67,0.14],[2003.84,0.12],[2003.98,0.09],[2004.68,0.10],[2004.85,0.13],[2004.96,0.13],[2005.24,0.09],[2005.46,-0.03],[2005.51,0.13],[2005.96,0.08],[2006.07,-0.02],[2006.46,0.05],[2006.57,-0.04],[2006.79,0.03],[2007.07,0.05],[2007.24,0.04],[2007.46,0.05],[2007.68,-0.05],[2008.07,0.04],[2008.46,0.06],[2008.51,0.05],[2008.85,-0.02],[2009.12,0.03],[2009.29,-0.04],[2009.79,0.03],[2010.12,0.04],[2010.35,-0.02],[2010.57,0.00],[2011.18,0.03],[2011.62,0.06],[2011.90,0.11],[2012.24,0.05],[2012.62,-0.04],[2012.79,0.06],[2013.07,0.09],[2013.24,-0.05],[2013.46,-0.10],[2013.62,-0.04],[2013.79,0.06],[2013.88,-0.10],[2014.24,0.04],[2014.35,-0.10],[2014.81,0.14],[2014.96,-0.11],[2015.07,-0.17],[2015.18,-0.14],[2015.74,-0.05],[2015.85,0.03],[2016.35,0.05],[2017.12,-0.04],[2017.24,0.05],[2017.57,0.01],[2017.90,0.00]];

// panel 4 (72*30) points
const p72Green = [[1976.00,-0.55],[1976.11,-0.08],[1976.61,0.09],[1976.72,0.22],[1976.91,-0.53],[1976.98,-0.36],[1977.06,-0.29],[1977.17,-0.43],[1977.22,-0.37],[1977.28,-0.45],[1977.39,-0.17],[1977.44,-0.29],[1977.58,0.42],[1977.67,0.36],[1977.74,0.60],[1977.89,-0.33],[1977.94,-0.08],[1978.02,-0.09],[1978.11,0.32],[1978.20,0.16],[1978.28,0.21],[1978.42,-0.41],[1978.47,0.07],[1978.53,0.32],[1978.64,0.28],[1978.72,0.65],[1978.89,0.34],[1978.94,0.53],[1979.00,0.35],[1979.09,0.37],[1979.13,-0.23],[1979.28,0.21],[1979.39,-0.24],[1979.44,-0.39],[1979.53,0.25],[1979.61,-0.12],[1979.76,-0.46],[1979.83,-0.33],[1980.00,-0.74],[1980.06,-0.79],[1980.11,-0.22],[1980.22,-0.10],[1980.31,-0.69],[1980.36,-0.52],[1980.42,-0.32],[1980.50,0.14],[1980.56,0.10],[1980.67,-0.22],[1980.72,-0.34],[1980.83,-0.25],[1980.94,-0.42],[1981.00,-0.49],[1981.39,0.35],[1981.44,0.25],[1981.61,0.31],[1981.67,0.23],[1981.83,-0.25],[1981.91,0.08],[1982.22,-0.06],[1982.36,0.19],[1982.50,0.12],[1982.56,-0.39],[1982.67,-0.32],[1982.83,-0.49],[1982.89,-0.72],[1982.98,-0.27],[1983.02,0.30],[1983.11,0.16],[1983.22,0.30],[1983.28,0.32],[1983.33,0.22],[1983.47,0.09],[1983.53,-0.21],[1983.64,-0.28],[1983.78,0.39],[1983.83,0.09],[1983.94,-0.60],[1984.00,-0.15],[1984.11,0.35],[1984.22,-0.15],[1984.33,-0.39],[1984.42,0.54],[1984.56,0.09],[1984.67,-0.08],[1984.89,-0.15],[1984.94,-0.18],[1985.02,-0.34],[1985.09,-0.31],[1985.13,-0.39],[1985.22,-0.04],[1985.33,-0.41],[1985.39,-0.25],[1985.50,-0.28],[1985.56,-0.43],[1985.61,-0.30],[1985.67,-0.33],[1985.78,-0.23],[1985.83,-0.30],[1985.94,-0.38],[1986.00,-0.42],[1986.06,-0.50],[1986.17,-0.54],[1986.22,-0.52],[1986.28,-0.35],[1986.39,-0.23],[1986.56,-0.48],[1986.61,-0.35],[1986.67,-0.31],[1986.72,-0.37],[1986.78,-0.39],[1986.83,-0.35],[1986.89,-0.39],[1987.00,-0.23],[1987.06,-0.35],[1987.11,-0.37],[1987.17,-0.03],[1987.28,-0.45],[1987.33,-0.38],[1987.42,-0.35],[1987.47,-0.12],[1987.56,-0.18],[1987.67,-0.30],[1987.78,-0.33],[1987.83,-0.34],[1987.89,-0.44],[1987.98,-0.35],[1988.06,-0.24],[1988.11,-0.34],[1988.17,-0.54],[1988.28,-0.74],[1988.39,-0.50],[1988.44,-0.46],[1988.50,-0.45],[1988.61,-0.74],[1988.67,-0.76],[1988.72,-0.80],[1988.78,-0.79],[1988.83,-0.51],[1988.94,-0.22],[1989.00,-0.21],[1989.06,0.46],[1989.13,0.54],[1989.22,0.70],[1989.31,0.30],[1989.39,0.23],[1989.50,0.14],[1989.58,0.15],[1989.72,0.21],[1989.83,-0.19],[1989.94,-0.34],[1990.06,0.39],[1990.17,0.22],
[1990.32,-0.40],[1990.40,-0.40],[1990.51,-0.15],[1990.58,0.59],[1990.65,-0.30],[1990.70,-0.64],[1990.87,-0.31],[1990.95,-0.56],[1991.01,-0.62],[1991.10,-0.69],[1991.32,-0.79],[1991.40,-0.25],[1991.51,-0.52],[1991.56,0.28],[1991.62,0.10],[1991.70,-0.52],[1991.81,-0.01],[1991.99,0.16],[1992.08,0.37],[1992.17,-0.41],[1992.40,-0.45],[1992.45,-0.64],[1992.53,-0.72],[1992.73,-0.48],[1992.84,-0.25],[1992.92,-0.31],[1992.98,-0.34],[1993.12,-0.49],[1993.20,-0.58],[1993.28,0.45],[1993.40,0.37],[1993.43,0.27],[1993.51,0.39],[1993.56,0.52],[1993.71,0.69],[1993.78,0.49],[1993.84,0.46],[1993.95,0.09],[1994.06,-0.23],[1994.14,-0.23],[1994.23,-0.08],[1994.34,0.09],[1994.40,0.35],[1994.45,0.23],[1994.58,0.06],[1994.67,0.21],[1994.76,0.13],[1994.87,0.21],[1994.98,0.23],[1995.06,0.25],[1995.12,0.35],[1995.21,0.13],[1995.34,0.17],[1995.45,0.11],[1995.51,0.15],[1995.62,0.10],[1995.67,0.14],[1995.78,0.17],[1995.84,0.09],[1995.95,0.25],[1996.01,0.27],[1996.12,0.19],[1996.21,0.17],[1996.28,0.14],[1996.40,-0.06],[1996.45,0.08],[1996.54,0.20],[1996.62,0.12],[1996.73,0.04],[1996.84,0.07],[1996.92,0.17],[1997.01,0.19],[1997.06,0.25],[1997.17,0.10],[1997.28,-0.10],[1997.45,0.07],[1997.56,0.09],[1997.67,-0.04],[1997.87,0.24],[1997.95,0.11],[1998.01,0.12],[1998.12,0.09],[1998.23,0.25],[1998.32,0.22],[1998.40,0.32],[1998.47,0.48],[1998.67,-0.23],[1998.78,0.08],[1998.90,0.24],[1998.95,-0.09],[1999.10,0.14],[1999.17,0.30],[1999.23,0.29],[1999.32,0.41],[1999.51,-0.36],[1999.59,-0.43],[1999.65,-0.40],[1999.78,-0.29],[1999.90,-0.28],[2000.03,-0.22],[2000.12,-0.45],[2000.21,-0.62],[2000.28,-0.23],[2000.43,-0.40],[2000.65,-0.18],[2000.78,-0.48],[2000.87,-0.74],[2000.95,-0.41],[2001.10,-0.21],[2001.45,-0.23],[2001.51,-0.34],[2001.56,-0.59],[2001.67,-0.51],[2001.76,-0.18],[2001.84,-0.42],[2001.90,-0.15],[2002.01,-0.15],[2002.12,-0.38],[2002.21,-0.43],[2002.32,-0.41],[2002.40,-0.56],[2002.43,-0.41],[2002.56,-0.29],[2002.62,-0.29],[2002.67,-0.27],[2002.76,-0.12],[2002.81,-0.18],[2002.90,0.10],[2002.99,0.17],[2003.12,0.39],[2003.23,0.41],[2003.34,0.29],[2003.40,0.54],[2003.47,0.24],[2003.62,0.07],[2003.67,0.19],[2003.84,0.44],[2003.95,0.52],[2004.01,0.56],[2004.10,0.51],[2004.45,0.17],[2004.54,0.30],
[2004.79,0.32],[2004.93,0.29],[2004.96,-0.02],[2005.10,0.25],[2005.40,-0.18],[2005.57,-0.06],[2005.66,-0.13],[2005.85,0.19],[2006.01,-0.15],[2006.35,-0.10],[2006.90,0.20],[2007.07,0.22],[2007.18,0.17],[2007.35,0.18],[2007.51,0.10],[2007.62,0.12],[2007.79,0.09],[2008.01,0.07],[2008.12,0.12],[2008.29,0.09],[2008.46,0.06],[2008.62,0.09],[2008.79,-0.01],[2009.12,0.02],[2009.24,-0.09],[2009.35,-0.08],[2009.46,-0.12],[2009.68,-0.06],[2009.90,-0.04],[2010.07,0.04],[2010.24,0.05],[2010.29,-0.18],[2010.46,0.01],[2010.79,0.13],[2010.90,0.03],[2011.12,0.12],[2011.24,0.19],[2011.40,0.21],[2011.57,0.17],[2011.68,0.13],[2011.88,0.18],[2011.96,0.30],[2012.07,0.48],[2012.18,0.33],[2012.29,0.15],[2012.46,0.08],[2012.57,0.20],[2012.68,0.21],[2012.85,0.25],[2013.24,-0.17],[2013.35,-0.19],[2013.57,-0.14],[2013.62,-0.24],[2013.68,-0.28],[2013.74,-0.19],[2013.88,-0.48],[2013.96,-0.23],[2014.01,-0.35],[2014.29,-0.09],[2014.37,-0.25],[2014.74,-0.59],[2014.79,-0.24],[2014.90,-0.76],[2014.96,-0.52],[2015.07,-0.69],[2015.15,-0.68],[2015.24,-0.55],[2015.37,-0.36],[2015.44,-0.21],[2015.96,0.32],[2016.01,0.32],[2016.18,0.14],[2016.40,0.20],[2016.48,0.40],[2016.74,0.38],[2016.79,0.28],[2016.96,0.32],[2017.01,0.29],[2017.12,0.17],[2017.24,0.25],[2017.35,0.21],[2017.46,0.12],[2017.51,0.00],[2017.57,0.10],[2017.68,0.13]];
const p72Red = [[1976.78,0.00],[1978.33,0.01],[1979.69,-0.04],[1979.89,-0.04],[1981.56,0.06],[1982.00,-0.01],[1982.22,-0.03],[1982.36,-0.04],[1983.70,0.04],[1984.53,0.00],[1984.72,0.01],[1989.69,0.04],[1990.06,0.07],[1990.84,-0.10],[1991.81,-0.02],[1992.25,0.14],[1992.65,-0.08],[1994.98,0.00],[1997.56,-0.02],[1997.81,0.04],[1998.62,-0.02],[1999.40,0.02],[1999.98,0.00],[2000.51,0.04],[2000.67,0.04],[2001.17,-0.06],[2001.23,0.04],[2003.62,0.17],[2004.34,0.17],[2004.46,0.17],[2005.24,0.14],[2005.29,0.01],[2005.35,0.08],[2005.90,0.04],[2005.96,-0.08],[2006.35,-0.07],[2006.51,0.01],[2006.85,0.07],[2008.40,-0.04],[2008.79,-0.01],[2008.90,-0.02],[2009.51,-0.02],[2010.07,0.03],[2010.46,-0.04],[2010.57,-0.02],[2010.96,0.06],[2011.74,0.07],[2012.74,0.04],[2013.07,0.09],[2013.18,0.03],[2014.12,0.08],[2014.29,0.00],[2015.68,-0.09],[2015.79,0.07],[2016.07,0.06],[2016.24,-0.07],[2017.74,0.00]];

// ---------- layout ----------
const svg = d3.select("#chart").append("svg")
    .attr("width", 1626)
    .attr("height", 1184);

const x = d3.scaleLinear().domain([1976, 2018]).range([113.3, 1372.7]);
const panelTops = [31, 307, 582.5, 858.5];
const panelH = 240.7;
const tickLen = 12.6;
const fontSize = 32;

// MATLAB-style '*' marker
const starR = 5.4, starA = starR * 0.72;
const starPath = `M${-starR},0H${starR}M0,${-starR}V${starR}` +
    `M${-starA},${-starA}L${starA},${starA}M${-starA},${starA}L${starA},${-starA}`;

const pointSets = [
    null,
    { green: p1800Green, red: p1800Red, label: resolutions[0], lx: 1386.5, ly: 438.5 },
    { green: p360Green, red: p360Red, label: resolutions[1], lx: 1406, ly: 728 },
    { green: p72Green, red: p72Red, label: resolutions[2], lx: 1408, ly: 958 }
];

panelTops.forEach((top, i) => {
    const y = d3.scaleLinear().domain([-0.8, 0.8]).range([top + panelH, top]);
    const [x0, x1] = x.range();
    const g = svg.append("g");

    const clipId = "clip" + i;
    svg.append("clipPath").attr("id", clipId)
        .append("rect")
        .attr("x", x0).attr("y", top)
        .attr("width", x1 - x0).attr("height", panelH);

    // grid
    g.append("g").selectAll("line").data(yearTicks).join("line")
        .attr("x1", d => x(d)).attr("x2", d => x(d))
        .attr("y1", top).attr("y2", top + panelH)
        .attr("stroke", "#9a9a9a").attr("stroke-width", 1.2);
    g.append("g").selectAll("line").data(bTicks).join("line")
        .attr("x1", x0).attr("x2", x1)
        .attr("y1", d => y(d)).attr("y2", d => y(d))
        .attr("stroke", "#9a9a9a").attr("stroke-width", 1.2);

    // data
    const dataG = g.append("g").attr("clip-path", `url(#${clipId})`);
    if (i === 0) {
        const line = d3.line()
            .defined(d => d !== null)
            .x(d => x(d[0]))
            .y(d => y(d[1]));
        [line1800, line360, line72].forEach((s, k) => {
            dataG.append("path")
                .datum(s)
                .attr("d", line)
                .attr("fill", "none")
                .attr("stroke", seriesColors[k])
                .attr("stroke-width", 4)
                .attr("stroke-linejoin", "round");
        });
    } else {
        const set = pointSets[i];
        [["green", "#00ff00"], ["red", "#ff0000"]].forEach(([key, col]) => {
            dataG.append("g").selectAll("path").data(set[key]).join("path")
                .attr("d", starPath)
                .attr("transform", d => `translate(${x(d[0])},${y(d[1])})`)
                .attr("fill", "none")
                .attr("stroke", col)
                .attr("stroke-width", 1.5);
        });
        svg.append("text")
            .attr("x", set.lx).attr("y", set.ly)
            .attr("font-size", fontSize)
            .text(set.label);
    }

    // zero line and instrument changes
    g.append("line")
        .attr("x1", x0).attr("x2", x1)
        .attr("y1", y(0)).attr("y2", y(0))
        .attr("stroke", "#000").attr("stroke-width", 4.5)
        .attr("stroke-dasharray", "13.3,6.7");
    g.append("g").selectAll("line").data(instrumentBreaks).join("line")
        .attr("x1", d => x(d)).attr("x2", d => x(d))
        .attr("y1", top).attr("y2", top + panelH)
        .attr("stroke", "#000")
        .attr("stroke-width", (d, k) => k === 0 ? 3.5 : 4.5)
        .attr("stroke-dasharray", "13,7");

    // axes (inward ticks on all four sides)
    const fmt = d => d === 0 ? "0" : d.toFixed(1);
    const left = g.append("g").attr("transform", `translate(${x0},0)`)
        .call(d3.axisLeft(y).tickValues(bTicks).tickSize(-tickLen).tickSizeOuter(0).tickPadding(6).tickFormat(fmt));
    const rightAx = g.append("g").attr("transform", `translate(${x1},0)`)
        .call(d3.axisRight(y).tickValues(bTicks).tickSize(-tickLen).tickSizeOuter(0).tickFormat(""));
    const topAx = g.append("g").attr("transform", `translate(0,${top})`)
        .call(d3.axisTop(x).tickValues(yearTicks).tickSize(-tickLen).tickSizeOuter(0).tickFormat(""));
    const bottom = g.append("g").attr("transform", `translate(0,${top + panelH})`)
        .call(d3.axisBottom(x).tickValues(yearTicks).tickSize(-tickLen).tickSizeOuter(0).tickPadding(15)
            .tickFormat(i === 3 ? d3.format("d") : ""));
    [left, rightAx, topAx, bottom].forEach(a => {
        a.attr("font-family", null).attr("font-size", fontSize);
        a.selectAll("text").attr("fill", "#000");
        a.selectAll(".tick line").attr("stroke", "#222").attr("stroke-width", 1.2);
        a.select(".domain").attr("stroke", "#000").attr("stroke-width", 1.5);
    });

    // y label
    svg.append("text")
        .attr("transform", `translate(32,${top + panelH / 2}) rotate(-90)`)
        .attr("text-anchor", "middle")
        .attr("font-size", fontSize)
        .text("B (G)");
});

// title and x label
svg.append("text")
    .attr("x", 586.5).attr("y", 28)
    .attr("text-anchor", "middle")
    .attr("font-size", fontSize)
    .text("KPVT and VSM data");
svg.append("text")
    .attr("x", 743).attr("y", 1172)
    .attr("text-anchor", "middle")
    .attr("font-size", fontSize)
    .text("Year");

// legend
const legend = svg.append("g");
legend.append("rect")
    .attr("x", 1380.7).attr("y", 15)
    .attr("width", 236).attr("height", 137.3)
    .attr("fill", "#fff").attr("stroke", "#000").attr("stroke-width", 1.2);
const legendRows = [40, 83.3, 126.7];
resolutions.forEach((name, k) => {
    legend.append("line")
        .attr("x1", 1392.7).attr("x2", 1455.7)
        .attr("y1", legendRows[k]).attr("y2", legendRows[k])
        .attr("stroke", seriesColors[k]).attr("stroke-width", 4);
    legend.append("text")
        .attr("x", 1463).attr("y", legendRows[k] + 12)
        .attr("font-size", fontSize)
        .text(name);
});
</script>
</body>
</html>
